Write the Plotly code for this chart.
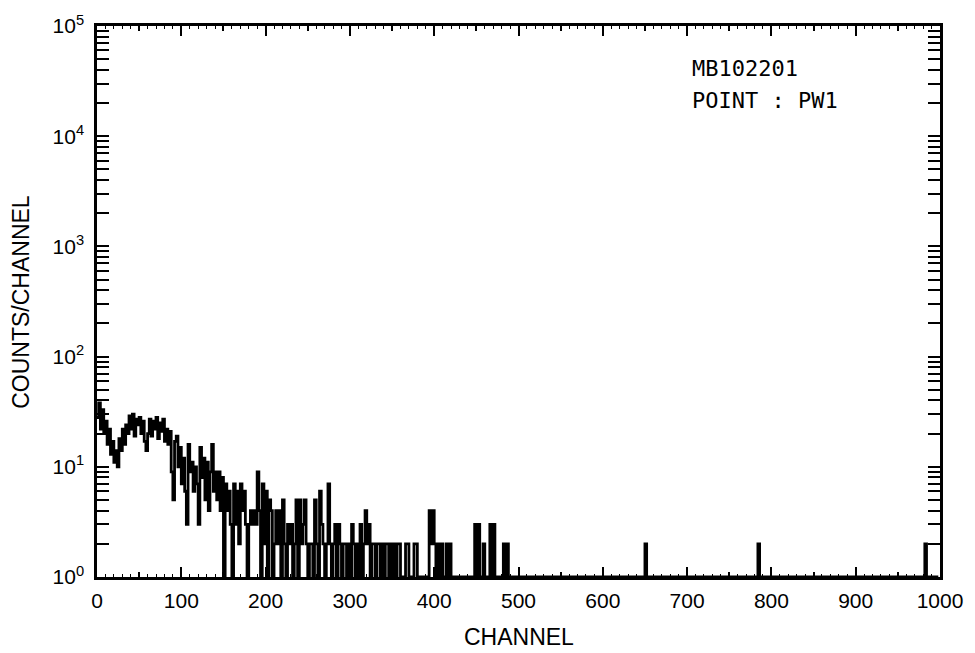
import plotly.graph_objects as go

# Counts per 2-channel step (channels 0..498)
counts_000_098 = [28, 38, 22, 33, 20, 26, 16, 22, 13, 17,
                  11, 14, 10, 18, 14, 22, 16, 24, 20, 29,
                  22, 30, 19, 27, 24, 28, 20, 26, 17, 14,
                  20, 27, 19, 26, 22, 28, 18, 25, 21, 27,
                  17, 22, 16, 21, 9, 5, 17, 19, 10, 15]
counts_100_198 = [7, 12, 6, 3, 16, 9, 11, 6, 10, 7,
                  3, 15, 8, 12, 5, 11, 4, 9, 16, 6,
                  9, 5, 9, 4, 8, 1, 7, 4, 6, 3,
                  1, 7, 3, 6, 2, 7, 4, 6, 3, 1,
                  3, 4, 3, 4, 3, 9, 4, 1, 7, 2]
counts_200_298 = [6, 1, 5, 4, 1, 2, 4, 2, 4, 1,
                  5, 2, 1, 3, 2, 3, 1, 2, 5, 1,
                  5, 2, 3, 5, 2, 1, 2, 2, 1, 5,
                  2, 1, 6, 3, 2, 1, 2, 7, 2, 1,
                  2, 3, 1, 3, 2, 1, 2, 2, 1, 2]
counts_300_398 = [1, 3, 2, 1, 2, 1, 3, 1, 2, 4,
                  2, 3, 1, 2, 2, 1, 2, 2, 1, 2,
                  1, 2, 2, 1, 2, 1, 2, 1, 2, 2,
                  1, 1, 1, 2, 2, 1, 1, 1, 2, 2,
                  1, 1, 1, 1, 1, 1, 1, 4, 2, 4]
counts_400_498 = [2, 1, 2, 1, 2, 1, 1, 2, 1, 2,
                  1, 1, 1, 1, 1, 1, 1, 1, 1, 1,
                  1, 1, 1, 1, 3, 1, 3, 1, 1, 2,
                  1, 1, 1, 3, 1, 3, 1, 1, 1, 1,
                  1, 2, 1, 2, 1, 1, 1, 1, 1, 1]
# Isolated spikes above channel 500
spike_channels = [650, 784, 982]
spike_counts = [2, 2, 2]
baseline_count = 1

y_tick_vals = [1, 10, 100, 1000, 10000, 100000]
y_tick_text = ["10<sup>0</sup>", "10<sup>1</sup>", "10<sup>2</sup>",
               "10<sup>3</sup>", "10<sup>4</sup>", "10<sup>5</sup>"]
x_tick_vals = [0, 100, 200, 300, 400, 500, 600, 700, 800, 900, 1000]

channels = list(range(0, 1000, 2))
counts = (counts_000_098 + counts_100_198 + counts_200_298 +
          counts_300_398 + counts_400_498)
counts = counts + [baseline_count] * (len(channels) - len(counts))
for ch, v in zip(spike_channels, spike_counts):
    counts[ch // 2] = v

y_minor = [m * 10 ** k for k in range(5) for m in range(2, 10)]
x_minor = [x + 50 for x in x_tick_vals[:-1]]
x_tiny = list(range(0, 1001, 10))

fig = go.Figure()
fig.add_trace(go.Scatter(x=channels, y=counts, mode="lines",
                         line=dict(color="black", width=2.8, shape="hv"),
                         showlegend=False, hoverinfo="skip"))
fig.add_trace(go.Scatter(x=[0], y=[1], xaxis="x2", mode="markers",
                         marker=dict(opacity=0), showlegend=False, hoverinfo="skip"))

tick_font = dict(family="Liberation Sans, Arial, sans-serif", size=21, color="black")
title_font = dict(family="Liberation Sans, Arial, sans-serif", size=23, color="black")
label_font = dict(family="DejaVu Sans Mono, monospace", size=22, color="black")

fig.update_layout(
    width=975, height=653,
    margin=dict(l=97, r=30, t=17, b=76),
    paper_bgcolor="white", plot_bgcolor="white",
    xaxis=dict(range=[0, 1000], tickvals=x_tick_vals, ticks="inside", ticklen=10,
               tickwidth=2, tickcolor="black", showline=True, linewidth=2.5,
               linecolor="black", mirror="allticks", showgrid=False, zeroline=False,
               tickfont=tick_font, ticklabelstandoff=3,
               minor=dict(tickvals=x_minor, ticks="inside", ticklen=5, tickwidth=2,
                          tickcolor="black", showgrid=False)),
    xaxis2=dict(range=[0, 1000], overlaying="x", anchor="y", tickvals=x_tiny,
                ticks="inside", ticklen=3, tickwidth=1, tickcolor="black",
                showticklabels=False, showline=False, showgrid=False, zeroline=False,
                mirror="allticks", side="bottom"),
    yaxis=dict(type="log", range=[0, 5], tickvals=y_tick_vals, ticktext=y_tick_text,
               ticks="inside", ticklen=12, tickwidth=2, tickcolor="black",
               showline=True, linewidth=2.5, linecolor="black", mirror="allticks",
               showgrid=False, zeroline=False, tickfont=tick_font, ticklabelstandoff=6,
               minor=dict(tickvals=y_minor, ticks="inside", ticklen=6, tickwidth=1.5,
                          tickcolor="black", showgrid=False)),
    annotations=[
        dict(text="CHANNEL", xref="paper", yref="paper", x=0.5, y=-0.109,
             xanchor="center", yanchor="middle", showarrow=False, font=title_font),
        dict(text="COUNTS/CHANNEL", xref="paper", yref="paper", x=-0.091, y=0.5,
             xanchor="center", yanchor="middle", textangle=-90, showarrow=False,
             font=title_font),
        dict(text="MB102201", xref="paper", yref="paper", x=0.704, y=0.923,
             xanchor="left", yanchor="middle", showarrow=False, font=label_font),
        dict(text="POINT : PW1", xref="paper", yref="paper", x=0.704, y=0.864,
             xanchor="left", yanchor="middle", showarrow=False, font=label_font),
    ],
)

fig.write_html("out.html")
